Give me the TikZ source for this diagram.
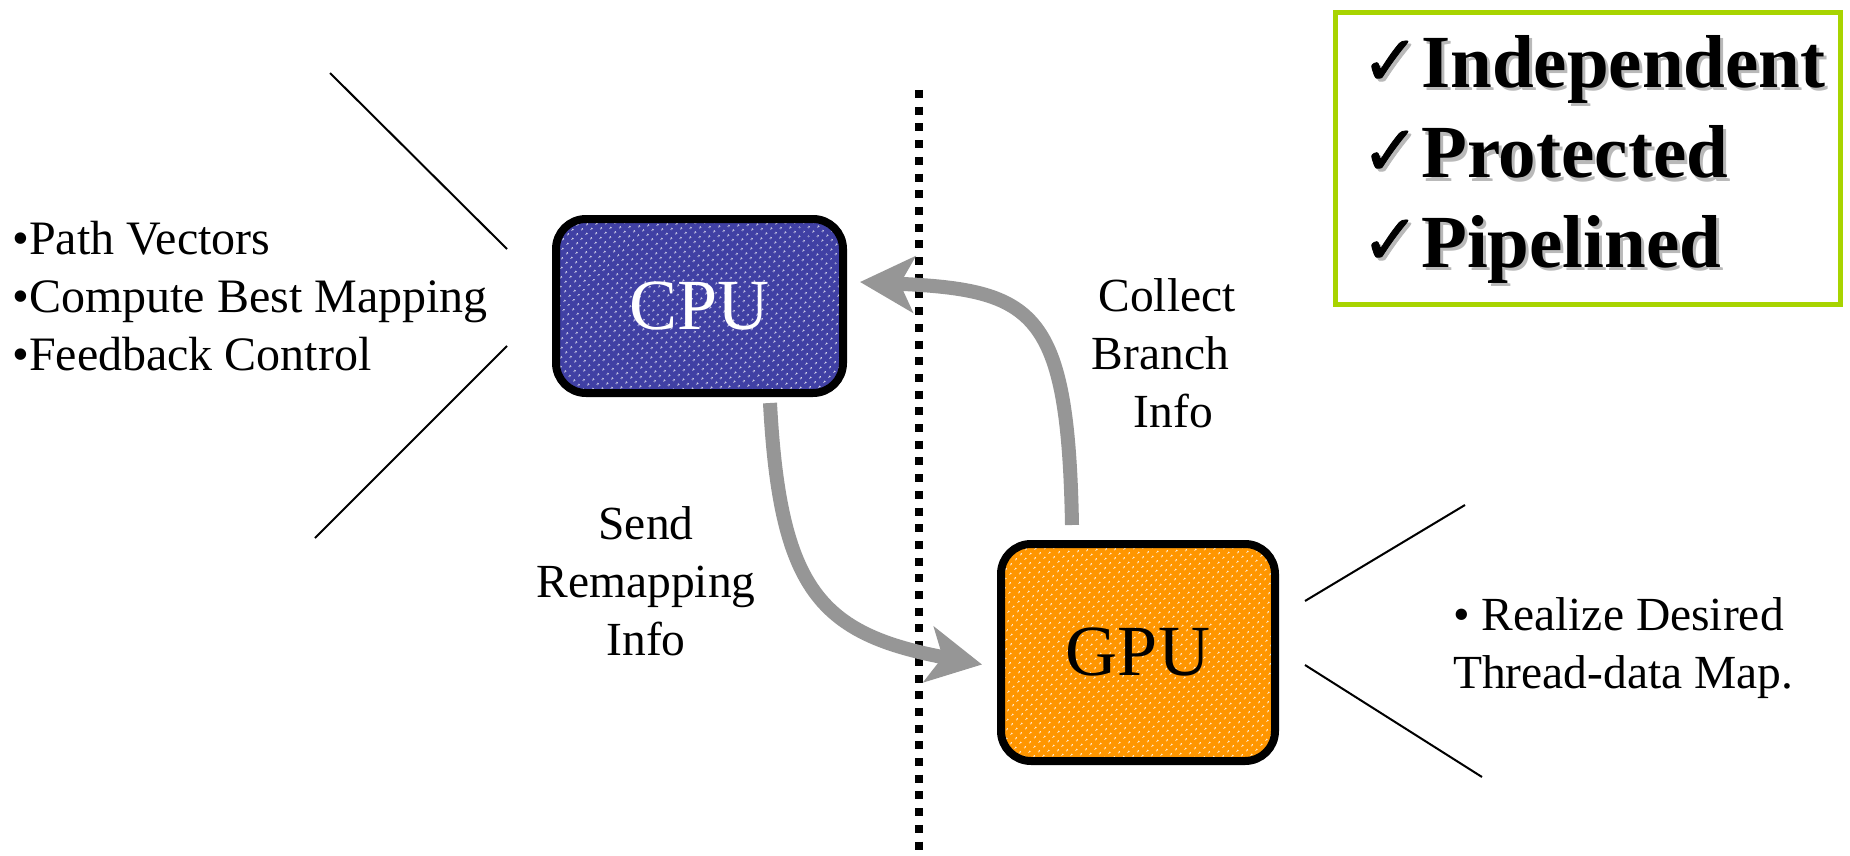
\documentclass[tikz,border=0pt]{standalone}
\usepackage{fontspec}
\setmainfont{Liberation Serif}
\newfontfamily\checkfont[FakeBold=1.2]{DejaVu Sans}
\usetikzlibrary{arrows.meta,patterns.meta}

\definecolor{cpublue}{RGB}{64,64,164}
\definecolor{gpuorange}{RGB}{255,150,0}
\definecolor{flowgray}{RGB}{150,150,150}
\definecolor{framegreen}{RGB}{168,212,0}
\definecolor{shadegray}{RGB}{185,185,185}

% text with a soft drop shadow to the lower right
\newcommand\withshadow[1]{\rlap{\kern3pt\raisebox{-3pt}{\color{shadegray}#1}}#1}

\begin{document}
\begin{tikzpicture}[x=1pt,y=-1pt,
  unitbox/.style={draw=black, line width=8pt, rounded corners=30pt, inner sep=0pt,
    preaction={fill=#1},
    preaction={pattern={Dots[distance=6.5pt,radius=1.1pt,angle=45]}, pattern color=white}},
  boxlabel/.style={font=\fontsize{72}{86}\selectfont},
  note/.style={inner sep=0pt, font=\fontsize{47.5}{58}\selectfont},
  flow/.style={draw=flowgray, line width=14pt,
    -{Stealth[length=54pt, width=56pt, inset=14pt]}},
  callout/.style={draw=black, line width=2pt},
  divider/.style={draw=black, line width=8pt, dash pattern=on 8pt off 8.7pt},
  frame/.style={draw=framegreen, line width=5pt},
  claim/.style={inner sep=0pt, anchor=base west, font=\fontsize{75}{90}\selectfont\bfseries},
  tick/.style={inner sep=0pt, anchor=base west, font=\checkfont\fontsize{70}{70}\selectfont},
]
\useasboundingbox (0,0) rectangle (1850,856);

% host / device divider
\coordinate (divtop) at (918.5,90);
\coordinate (divbot) at (918.5,860);
\path[divider] (divtop) -- (divbot);

% processing units
\node[unitbox=cpublue, minimum width=287pt, minimum height=174pt, boxlabel, text=white]
  (cpu) at (699.5,306) {CPU};
\node[unitbox=gpuorange, minimum width=274pt, minimum height=217pt, boxlabel]
  (gpu) at (1138,652.5) {GPU};

% data flow between host and device
\path[flow] ([xshift=70.5pt,yshift=-6pt]cpu.south)
  .. controls +(10,187) and +(-162,-30.5) .. ([xshift=-15pt,yshift=-12pt]gpu.west);
\path[flow] ([xshift=-66pt,yshift=15pt]gpu.north)
  .. controls +(-4,-215) and +(175,8) .. ([xshift=13pt,yshift=24pt]cpu.east);

% flow labels (a multi-line node sits on its last baseline)
\node[note, anchor=base, align=center] (sendlbl) at (646,655)
  {Send\\Remapping\\Info};
\node[note, anchor=base, align=center] (collectlbl) at (1167,427)
  {Collect\\Branch\kern13pt\\\kern13pt Info};

% CPU duties with callout lines
\node[note, anchor=base west, align=left, font=\fontsize{48}{58}\selectfont] (cpulist) at (12,370)
  {•Path Vectors\\•Compute Best Mapping\\•Feedback Control};
\coordinate (cl1a) at (330,73);  \coordinate (cl1b) at (507,249);
\coordinate (cl2a) at (507,346); \coordinate (cl2b) at (315,538);
\path[callout] (cl1a) -- (cl1b);
\path[callout] (cl2a) -- (cl2b);

% GPU duty with callout lines
\node[note, anchor=base west, align=left] (gpulist) at (1453,688)
  {• Realize Desired\\Thread-data Map.};
\coordinate (gl1a) at (1305,601); \coordinate (gl1b) at (1465,505);
\coordinate (gl2a) at (1305,665); \coordinate (gl2b) at (1482,777);
\path[callout] (gl1a) -- (gl1b);
\path[callout] (gl2a) -- (gl2b);

% properties panel
\coordinate (frameA) at (1335.5,12.5);
\coordinate (frameB) at (1840.5,304.5);
\path[frame] (frameA) rectangle (frameB);
\node[tick]  (tick1) at (1361,85)  {\withshadow{✓}};
\node[claim] (prop1) at (1421,88)  {\withshadow{Independent}};
\node[tick]  (tick2) at (1361,175) {\withshadow{✓}};
\node[claim] (prop2) at (1421,178) {\withshadow{Protected}};
\node[tick]  (tick3) at (1361,264) {\withshadow{✓}};
\node[claim] (prop3) at (1421,267) {\withshadow{Pipelined}};
\end{tikzpicture}
\end{document}
